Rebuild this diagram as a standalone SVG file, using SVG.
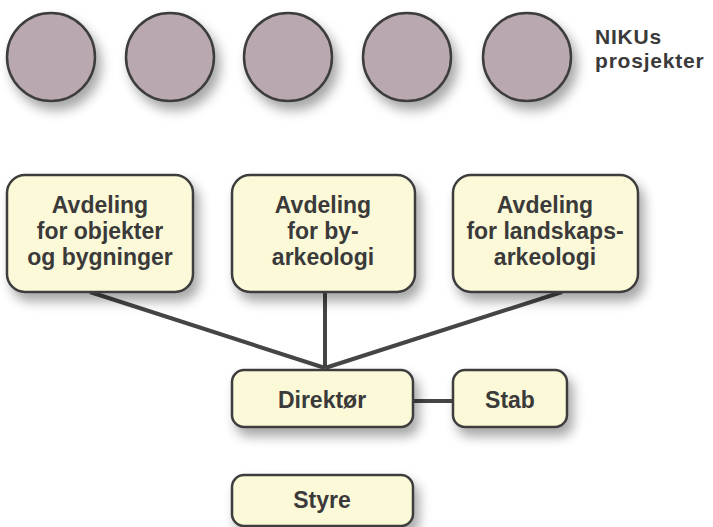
<svg xmlns="http://www.w3.org/2000/svg" width="713" height="527" viewBox="0 0 713 527">
<defs>
<filter id="sh" x="-20%" y="-20%" width="150%" height="160%">
<feDropShadow dx="5" dy="8" stdDeviation="6" flood-color="#000" flood-opacity="0.35"/>
</filter>
<style>
.c{fill:#b9a8b0;stroke:#3e3e3e;stroke-width:2.5;filter:url(#sh)}
.b{fill:#fcf9d8;stroke:#3e3e3e;stroke-width:2.5;filter:url(#sh)}
.t{font-family:"Liberation Sans","Open Sans",sans-serif;font-weight:700;fill:#3a3a3a;font-size:23px;text-anchor:middle}
.n{font-family:"Liberation Sans","Open Sans",sans-serif;font-weight:700;fill:#3a3a3a;font-size:21px;letter-spacing:0.8px}
.l{fill:none;stroke:#454545;stroke-width:4;stroke-linecap:butt}
</style>
</defs>
<g id="projects">
<circle class="c" cx="51" cy="57" r="44"/>
<circle class="c" cx="170" cy="57" r="44"/>
<circle class="c" cx="288" cy="57" r="44"/>
<circle class="c" cx="407" cy="57" r="44"/>
<circle class="c" cx="527" cy="57" r="44"/>
<text class="n" x="595" y="44">NIKUs</text>
<text class="n" x="595" y="68">prosjekter</text>
</g>
<g id="connectors">
<line class="l" x1="90" y1="292" x2="325" y2="368"/>
<line class="l" x1="325" y1="292" x2="325" y2="368"/>
<line class="l" x1="562" y1="292" x2="325" y2="368"/>
<line class="l" x1="413" y1="401" x2="453" y2="401"/>
</g>
<g id="avd1">
<rect class="b" x="7" y="175" width="186" height="117" rx="18"/>
<text class="t" x="100" y="213">Avdeling</text>
<text class="t" x="100" y="239">for objekter</text>
<text class="t" x="100" y="265">og bygninger</text>
</g>
<g id="avd2">
<rect class="b" x="232" y="175" width="183" height="117" rx="18"/>
<text class="t" x="323" y="213">Avdeling</text>
<text class="t" x="323" y="239">for by-</text>
<text class="t" x="323" y="265">arkeologi</text>
</g>
<g id="avd3">
<rect class="b" x="453" y="175" width="185" height="117" rx="18"/>
<text class="t" x="545" y="213">Avdeling</text>
<text class="t" x="545" y="239">for landskaps-</text>
<text class="t" x="545" y="265">arkeologi</text>
</g>
<g id="direktor">
<rect class="b" x="232" y="370" width="181" height="57" rx="12"/>
<text class="t" x="322" y="408">Direktør</text>
</g>
<g id="stab">
<rect class="b" x="453" y="370" width="114" height="57" rx="12"/>
<text class="t" x="510" y="408">Stab</text>
</g>
<g id="styre">
<rect class="b" x="232" y="475" width="181" height="51" rx="12"/>
<text class="t" x="322" y="508">Styre</text>
</g>
</svg>
